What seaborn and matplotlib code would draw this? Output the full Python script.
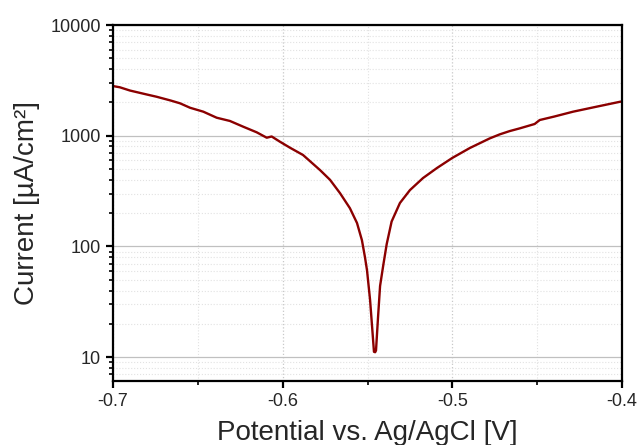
import numpy as np
import pandas as pd
import matplotlib
matplotlib.use("Agg")
import matplotlib.pyplot as plt
import seaborn as sns
from matplotlib.ticker import LogLocator, MultipleLocator, NullFormatter

# Tafel curve
potential = [-0.7000, -0.6960, -0.6900, -0.6802, -0.6743, -0.6660, -0.6605, -0.6546,
             -0.6468, -0.6389, -0.6311, -0.6232, -0.6153, -0.6094, -0.6065, -0.6016,
             -0.5957, -0.5880, -0.5780, -0.5721, -0.5662, -0.5604, -0.5562, -0.5533,
             -0.5515, -0.5503, -0.5485, -0.5472, -0.5462, -0.5455, -0.5450, -0.5438,
             -0.5426, -0.5407, -0.5387, -0.5358, -0.5309, -0.5250, -0.5173, -0.5091,
             -0.5000, -0.4897, -0.4780, -0.4720, -0.4662, -0.4602, -0.4515, -0.4485,
             -0.4400, -0.4288, -0.4150, -0.4012, -0.4000]
current = [2810, 2740, 2560, 2360, 2250, 2080, 1963, 1790,
           1650, 1455, 1360, 1206, 1074, 960, 985, 883,
           780, 670, 490, 400, 303, 222, 163, 114,
           80, 61, 33, 18, 11.2, 11.1, 11.5, 23,
           44, 68, 105, 168, 247, 323, 415, 511,
           631, 775, 946, 1030, 1102, 1167, 1277, 1387,
           1490, 1650, 1830, 2027, 2040]

df = pd.DataFrame({"potential": potential, "current": current})

sns.set_style("white")
plt.rcParams["font.family"] = ["Liberation Sans", "DejaVu Sans"]

fig = plt.figure(figsize=(6.41, 4.45), dpi=100)
ax = fig.add_axes([0.1763, 0.1438, 0.7941, 0.8])

sns.lineplot(data=df, x="potential", y="current", color="#8b0000",
             linewidth=1.7, ax=ax, sort=False)

ax.set_yscale("log")
ax.set_xlim(-0.7, -0.4)
ax.set_ylim(6.1, 10000)

ax.xaxis.set_minor_locator(MultipleLocator(0.05))
ax.yaxis.set_minor_locator(LogLocator(base=10, subs=np.arange(2, 10), numticks=10))
ax.yaxis.set_minor_formatter(NullFormatter())
ax.set_xticks([-0.7, -0.6, -0.5, -0.4])
ax.set_xticklabels(["-0.7", "-0.6", "-0.5", "-0.4"])
ax.set_yticks([10, 100, 1000, 10000])
ax.set_yticklabels(["10", "100", "1000", "10000"])

ax.grid(False)
ax.yaxis.grid(True, which="major", color="#c0c0c0", linestyle="-", linewidth=0.9)
ax.yaxis.grid(True, which="minor", color="#e2e2e2", linestyle=":", linewidth=0.8)
ax.xaxis.grid(True, which="major", color="#c8c8c8", linestyle=":", linewidth=0.9)
ax.xaxis.grid(True, which="minor", color="#e2e2e2", linestyle=":", linewidth=0.8)

for s in ax.spines.values():
    s.set_color("black")
    s.set_linewidth(1.6)

ax.tick_params(axis="both", which="major", direction="out", length=5, width=1.6,
               labelsize=13, color="black", bottom=True, left=True, top=False, right=False)
ax.tick_params(axis="both", which="minor", direction="out", length=3, width=1.2,
               color="black", bottom=True, left=True, top=False, right=False)

ax.set_xlabel("Potential vs. Ag/AgCl [V]", fontsize=20, labelpad=7)
ax.set_ylabel("Current [µA/cm²]", fontsize=20, labelpad=8)

fig.savefig("out.png", dpi=100)
